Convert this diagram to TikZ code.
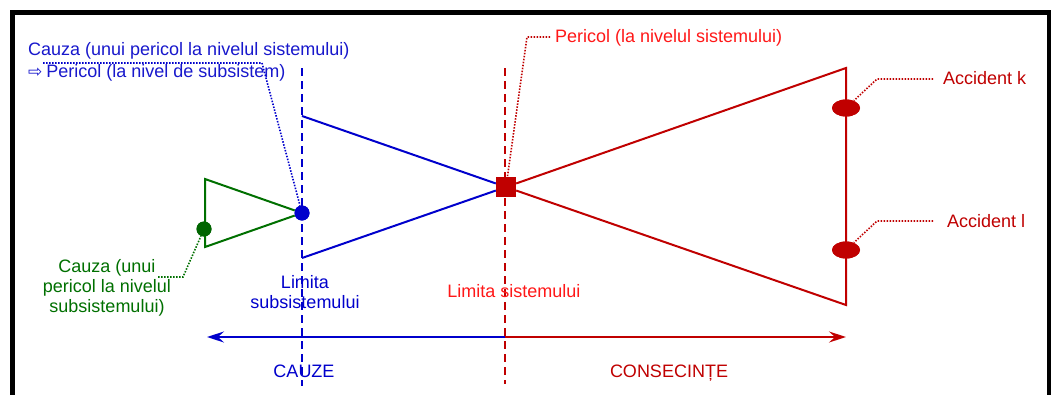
\documentclass[tikz,border=0pt]{standalone}
\usepackage{fontspec}
\setmainfont{Liberation Sans}
\newfontfamily\dejavu{DejaVu Sans}
\usetikzlibrary{arrows.meta,shapes.geometric}
\definecolor{cblue}{RGB}{0,0,204}
\definecolor{tblue}{RGB}{24,24,204}
\definecolor{cred}{RGB}{192,0,0}
\definecolor{tred}{RGB}{255,24,24}
\definecolor{cgreen}{RGB}{0,112,0}
\begin{document}
\begin{tikzpicture}[x=1pt,y=-1pt,
  every node/.style={font=\fontsize{18}{20}\selectfont, inner sep=0pt},
  solidline/.style={line width=2pt},
  limitline/.style={line width=2.2pt, dash pattern=on 8pt off 5pt},
  leader/.style={line width=1.6pt, dash pattern=on 1.5pt off 1.5pt},
  dotnode/.style={circle, minimum size=15pt},
  ellnode/.style={ellipse, minimum width=28pt, minimum height=17pt, fill=cred},
  axisarrow/.style={line width=2pt, -{Stealth[length=17pt,width=11pt,inset=6pt]}},
]
\clip (0,0) rectangle (1053,394);
\fill[white] (0,0) rectangle (1053,394);
% frame
\draw[line width=4.5pt] (12.5,400) -- (12.5,12.5) -- (1049,12.5) -- (1049,400);

% key points
\node[dotnode, fill=cblue] (bdot) at (302,213) {};
\node[dotnode, fill=cgreen!90!black] (gdot) at (204,229) {};
\node[rectangle, minimum size=20pt, fill=cred] (sq) at (506,187) {};
\node[ellnode] (ek) at (846,108) {};
\node[ellnode] (el) at (846,250) {};

\coordinate (btop) at (302,116);
\coordinate (bbot) at (302,258);
\coordinate (rtop) at (846,68);
\coordinate (rbot) at (846,305);
\coordinate (gtop) at (205,179);
\coordinate (gbot) at (205,247);
\coordinate (blimT) at (302,68);
\coordinate (blimB) at (302,386);
\coordinate (rlimT) at (505,68);
\coordinate (rlimB) at (505,384);
\coordinate (axmid) at (505,337);
\coordinate (axL) at (207,337);
\coordinate (axR) at (846,337);

% bow-tie
\draw[solidline, cblue] (btop) -- (sq);
\draw[solidline, cblue] (bbot) -- (sq);
\draw[solidline, cred] (sq) -- (rtop) -- (rbot) -- (sq);
\draw[solidline, cgreen] (bdot) -- (gtop) -- (gbot) -- (bdot);

% limits
\draw[limitline, cblue] (blimT) -- (blimB);
\draw[limitline, cred] (rlimT) -- (rlimB);

% axis
\draw[axisarrow, cblue] (axmid) -- (axL);
\draw[axisarrow, cred] (axmid) -- (axR);

% redraw markers on top
\node[dotnode, fill=cblue] at (bdot) {};
\node[dotnode, fill=cgreen!90!black] at (gdot) {};
\node[rectangle, minimum size=20pt, fill=cred] at (sq) {};
\node[ellnode] at (ek) {};
\node[ellnode] at (el) {};

% texts
\node[anchor=base west, text=tblue] (tcauza) at (28,55) {Cauza (unui pericol la nivelul sistemului)};
\node[anchor=base west, text=tblue] (tpericolsub) at (28,77) {{\dejavu\fontsize{17}{17}\selectfont ⇨}\hspace{4pt}Pericol (la nivel de subsistem)};
\node[anchor=base west, text=tred] (tpericol) at (555,42) {Pericol (la nivelul sistemului)};
\node[anchor=base west, text=cred] (tk) at (943,84) {Accident k};
\node[anchor=base west, text=cred] (tl) at (947,227) {Accident l};
\node[anchor=base, text=cgreen, align=center] (tgreen) at (107,312) {Cauza (unui\\pericol la nivelul\\subsistemului)};
\node[anchor=base, text=cblue, align=center] (tlimsub) at (305,308) {Limita\\subsistemului};
\node[anchor=base, text=tred] (tlimsys) at (514,297) {Limita sistemului};
\node[anchor=base, text=cblue] (tcauze) at (304,377) {CAUZE};
\node[anchor=base, text=cred] (tcons) at (669,377) {CONSECINȚE};

% leaders
\coordinate (lb1) at (43,63);
\coordinate (lb2) at (262,63);
\draw[leader, cblue] (lb1) -- (lb2) -- (bdot);
\coordinate (lg1) at (158,277);
\coordinate (lg2) at (183,277);
\draw[leader, cgreen] (lg1) -- (lg2) -- (gdot);
\coordinate (lr1) at (550,37);
\coordinate (lr2) at (527,37);
\draw[leader, cred] (lr1) -- (lr2) -- (sq);
\coordinate (lk1) at (933,79);
\coordinate (lk2) at (877,79);
\draw[leader, cred] (lk1) -- (lk2) -- (ek);
\coordinate (ll1) at (933,221);
\coordinate (ll2) at (877,221);
\draw[leader, cred] (ll1) -- (ll2) -- (el);
\end{tikzpicture}
\end{document}
